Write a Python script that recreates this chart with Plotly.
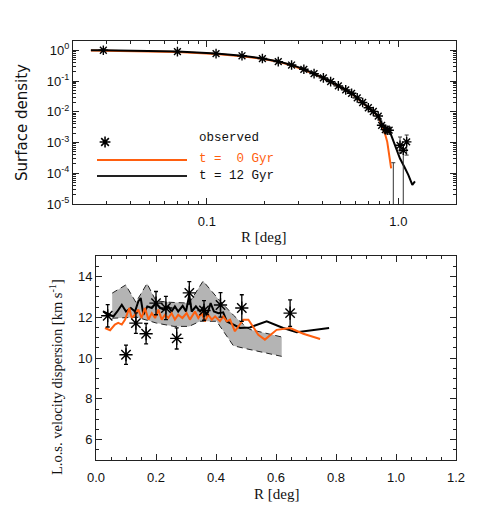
import plotly.graph_objects as go

# ---------------- Top panel: surface density profile ----------------
obs_r = [0.0288, 0.0702, 0.1117, 0.1526, 0.195, 0.236, 0.277, 0.321, 0.363, 0.406,
         0.443, 0.486, 0.531, 0.570, 0.610, 0.651, 0.697, 0.740, 0.785, 0.818,
         0.855, 0.875, 0.895, 0.941, 1.02, 1.061, 1.105]
obs_sigma = [1.0, 0.902, 0.776, 0.661, 0.537, 0.427, 0.331, 0.240, 0.174, 0.126,
             0.0955, 0.0692, 0.0513, 0.0398, 0.0282, 0.0200, 0.0135, 0.0102, 0.00724, 0.00363,
             0.00263, 0.00251, 0.00251, 1e-7, 8.1e-4, 5.6e-4, 1.05e-3]
obs_sigma_errp = [0.05, 0.045, 0.04, 0.035, 0.03, 0.024, 0.019, 0.014, 0.010, 0.0075,
                  0.0057, 0.0042, 0.0032, 0.0025, 0.0018, 0.0013, 0.0009, 0.0007, 0.0005, 0.0003,
                  0.0003, 0.0003, 0.0003, 2.2e-4, 7.0e-4, 3.0e-4, 7.0e-4]
obs_sigma_errm = [0.05, 0.045, 0.04, 0.035, 0.03, 0.024, 0.019, 0.014, 0.010, 0.0075,
                  0.0057, 0.0042, 0.0032, 0.0025, 0.0018, 0.0013, 0.0009, 0.0007, 0.0005, 0.0003,
                  0.0003, 0.0003, 0.0003, 0.0, 3.6e-4, 5.5999e-4, 6.6e-4]

m12_r = [0.0248, 0.0288, 0.0702, 0.1117, 0.1526, 0.195, 0.236, 0.277, 0.321, 0.363,
         0.406, 0.443, 0.486, 0.531, 0.570, 0.610, 0.651, 0.697, 0.740, 0.785,
         0.818, 0.851, 0.875, 0.897, 0.923, 0.979, 1.02, 1.074, 1.127, 1.183, 1.221]
m12_sigma = [1.0, 1.0, 0.91, 0.785, 0.668, 0.543, 0.431, 0.335, 0.243, 0.176,
             0.127, 0.0966, 0.070, 0.0519, 0.0403, 0.0285, 0.0202, 0.0136, 0.0103, 0.0073,
             0.0042, 0.0032, 0.00275, 0.0025, 0.00151, 5.6e-4, 3.0e-4, 1.62e-4, 8.9e-5, 4.2e-5, 5.4e-5]

m0_r = [0.0248, 0.0702, 0.1117, 0.1526, 0.195, 0.236, 0.277, 0.321, 0.363, 0.406,
        0.443, 0.486, 0.531, 0.570, 0.610, 0.651, 0.697, 0.740, 0.785, 0.818,
        0.851, 0.875, 0.897, 0.917]
m0_sigma = [0.98, 0.88, 0.755, 0.64, 0.525, 0.42, 0.325, 0.236, 0.171, 0.124,
            0.094, 0.068, 0.0505, 0.039, 0.0277, 0.0196, 0.0132, 0.0100, 0.0071, 0.0036,
            0.00195, 0.00105, 3.5e-4, 1.45e-4]

# legend marker position (top-panel data coordinates)
legend_sym_r = [0.0294]
legend_sym_sigma = [1.04e-3]

# ---------------- Bottom panel: velocity dispersion ----------------
vobs_r = [0.039, 0.10, 0.133, 0.167, 0.20, 0.233, 0.269, 0.311, 0.36, 0.415, 0.486, 0.647]
vobs_s = [12.07, 10.16, 11.71, 11.19, 12.69, 12.45, 10.96, 13.19, 12.33, 12.6, 12.45, 12.2]
vobs_e = [0.55, 0.47, 0.5, 0.5, 0.57, 0.57, 0.52, 0.55, 0.48, 0.6, 0.65, 0.65]

v12_r = [0.024, 0.041, 0.058, 0.071, 0.086, 0.10, 0.116, 0.13, 0.141, 0.149, 0.158, 0.171,
         0.186, 0.20, 0.213, 0.227, 0.241, 0.252, 0.263, 0.274, 0.289, 0.30, 0.311, 0.319,
         0.333, 0.347, 0.36, 0.369, 0.382, 0.393, 0.408, 0.424, 0.436, 0.452, 0.48, 0.513,
         0.569, 0.624, 0.669, 0.777]
v12_s = [12.28, 12.17, 12.04, 12.28, 12.61, 12.28, 12.45, 12.28, 12.77, 12.94, 12.12, 12.53,
         12.45, 12.69, 12.45, 12.37, 12.53, 12.28, 12.53, 12.28, 12.56, 12.28, 13.1, 12.28,
         12.53, 12.28, 12.53, 12.04, 12.69, 12.28, 12.2, 12.24, 11.79, 11.68, 11.47, 11.5,
         11.8, 11.47, 11.26, 11.47]

v0_r = [0.03, 0.047, 0.063, 0.074, 0.086, 0.097, 0.111, 0.119, 0.13, 0.141, 0.152, 0.163,
        0.175, 0.186, 0.197, 0.208, 0.219, 0.23, 0.241, 0.252, 0.263, 0.274, 0.288, 0.302,
        0.313, 0.33, 0.341, 0.352, 0.363, 0.374, 0.386, 0.397, 0.413, 0.424, 0.436, 0.447,
        0.463, 0.474, 0.491, 0.508, 0.524, 0.541, 0.563, 0.602, 0.647, 0.691, 0.747]
v0_s = [11.47, 11.36, 11.64, 11.72, 11.64, 11.88, 12.45, 11.96, 12.12, 12.37, 11.96, 12.45,
        11.88, 12.2, 11.96, 12.37, 11.88, 12.12, 11.96, 12.2, 11.88, 12.12, 11.96, 12.2,
        11.88, 12.28, 11.96, 12.2, 11.8, 12.12, 11.88, 12.04, 11.8, 12.04, 11.8, 11.88,
        11.31, 11.55, 11.88, 11.88, 11.55, 11.14, 10.9, 11.38, 11.47, 11.19, 10.93]

band_up_r = [0.054, 0.099, 0.133, 0.17, 0.2, 0.247, 0.31, 0.357, 0.412, 0.458, 0.502, 0.513, 0.619]
band_up_s = [13.18, 13.58, 12.73, 13.65, 12.8, 12.73, 12.69, 13.77, 12.82, 12.1, 11.5, 11.4, 11.03]
band_lo_r = [0.054, 0.136, 0.202, 0.26, 0.31, 0.347, 0.402, 0.458, 0.502, 0.619]
band_lo_s = [11.95, 12.0, 11.71, 11.55, 11.55, 11.8, 11.8, 10.6, 10.45, 10.08]

x_top_ticks = [0.1, 1.0]
x_top_ticktext = ["0.1", "1.0"]
y_top_ticks = [1e-5, 1e-4, 1e-3, 1e-2, 1e-1, 1.0]
y_top_ticktext = ["10<sup>-5</sup>", "10<sup>-4</sup>", "10<sup>-3</sup>",
                  "10<sup>-2</sup>", "10<sup>-1</sup>", "10<sup>0</sup>"]

ORANGE = "#FF5F0F"
BLACK = "#000000"
SANS = "Liberation Sans"
SERIF = "Liberation Serif"
MONO = "Liberation Mono"

fig = go.Figure()

ast = dict(symbol="asterisk-open", size=8, color=BLACK, line=dict(width=1.4, color=BLACK))

# top panel traces
fig.add_trace(go.Scatter(x=m0_r, y=m0_sigma, mode="lines", line=dict(color=ORANGE, width=2),
                         xaxis="x", yaxis="y", showlegend=False))
fig.add_trace(go.Scatter(x=m12_r, y=m12_sigma, mode="lines", line=dict(color=BLACK, width=2),
                         xaxis="x", yaxis="y", showlegend=False))
fig.add_trace(go.Scatter(x=obs_r, y=obs_sigma, mode="markers", marker=ast,
                         error_y=dict(type="data", symmetric=False, array=obs_sigma_errp,
                                      arrayminus=obs_sigma_errm, color="#333", thickness=1, width=2),
                         xaxis="x", yaxis="y", showlegend=False))
fig.add_trace(go.Scatter(x=legend_sym_r, y=legend_sym_sigma, mode="markers",
                         marker=dict(symbol="asterisk-open", size=9, color=BLACK,
                                     line=dict(width=1.6, color=BLACK)),
                         xaxis="x", yaxis="y", showlegend=False, hoverinfo="skip"))

# bottom panel traces
band_x = band_up_r + band_lo_r[::-1]
band_y = band_up_s + band_lo_s[::-1]
fig.add_trace(go.Scatter(x=band_x, y=band_y, mode="lines", fill="toself",
                         fillcolor="#B4B4B4", line=dict(width=0), xaxis="x2", yaxis="y2",
                         showlegend=False))
fig.add_trace(go.Scatter(x=band_up_r, y=band_up_s, mode="lines",
                         line=dict(color="#222", width=1, dash="6px,4px"), xaxis="x2", yaxis="y2",
                         showlegend=False))
fig.add_trace(go.Scatter(x=band_lo_r, y=band_lo_s, mode="lines",
                         line=dict(color="#222", width=1, dash="6px,4px"), xaxis="x2", yaxis="y2",
                         showlegend=False))
fig.add_trace(go.Scatter(x=v12_r, y=v12_s, mode="lines", line=dict(color=BLACK, width=2),
                         xaxis="x2", yaxis="y2", showlegend=False))
fig.add_trace(go.Scatter(x=v0_r, y=v0_s, mode="lines", line=dict(color=ORANGE, width=2),
                         xaxis="x2", yaxis="y2", showlegend=False))
fig.add_trace(go.Scatter(x=vobs_r, y=vobs_s, mode="markers",
                         marker=dict(symbol="asterisk-open", size=11, color=BLACK,
                                     line=dict(width=1.4, color=BLACK)),
                         error_y=dict(type="data", array=vobs_e, color=BLACK, thickness=1.3, width=2),
                         xaxis="x2", yaxis="y2", showlegend=False))

W, H = 480, 512
def px(x):
    return x / W
def py(y):
    return 1 - y / H

axis_common = dict(showline=True, linecolor="#222", linewidth=1, mirror="allticks",
                   ticks="inside", ticklen=6, tickcolor="#222", showgrid=False, zeroline=False,
                   automargin=False,
                   tickfont=dict(family=SANS, size=13, color="#111"))

minor_x_top = [0.02, 0.03, 0.04, 0.05, 0.06, 0.07, 0.08, 0.09,
               0.2, 0.3, 0.4, 0.5, 0.6, 0.7, 0.8, 0.9, 2.0]
minor_y_top = [k * 10.0 ** e for e in range(-5, 1) for k in range(2, 10)]

fig.update_layout(
    width=W, height=H, margin=dict(l=0, r=0, t=0, b=0),
    paper_bgcolor="white", plot_bgcolor="white",
    xaxis=dict(axis_common, type="log", range=[-1.69897, 0.30103],
               domain=[px(73), px(456)], anchor="y", ticklabelstandoff=5,
               tickmode="array", tickvals=x_top_ticks, ticktext=x_top_ticktext,
               minor=dict(tickvals=minor_x_top, ticks="inside", ticklen=3, tickcolor="#222")),
    yaxis=dict(axis_common, type="log", range=[-5, 0.30103],
               domain=[py(204), py(41)], anchor="x",
               tickmode="array", tickvals=y_top_ticks, ticktext=y_top_ticktext,
               minor=dict(tickvals=minor_y_top, ticks="inside", ticklen=3, tickcolor="#222")),
    xaxis2=dict(axis_common, range=[0, 1.2], domain=[px(96), px(456)], anchor="y2",
                ticklabelstandoff=5,
                tickmode="linear", tick0=0, dtick=0.2, tickformat=".1f",
                minor=dict(dtick=0.05, ticks="inside", ticklen=3, tickcolor="#222")),
    yaxis2=dict(axis_common, range=[5, 15], domain=[py(460), py(256)], anchor="x2",
                tickmode="array", tickvals=[6, 8, 10, 12, 14],
                minor=dict(dtick=0.5, ticks="inside", ticklen=3, tickcolor="#222")),
)

def note(text, x, y, font, angle=0, xanchor="center"):
    return dict(text=text, x=px(x), y=py(y), xref="paper", yref="paper",
                xanchor=xanchor, yanchor="middle", textangle=angle,
                showarrow=False, font=font)

ann = [
    note("Surface density", 22, 123, dict(family="DejaVu Sans", size=15, color="#111"), angle=-90),
    note("R [deg]", 263, 237, dict(family=SERIF, size=15, color="#111")),
    note("L.o.s. velocity dispersion [km s<sup>-1</sup>]", 56, 377,
         dict(family=SERIF, size=14.5, color="#111"), angle=-90),
    note("R [deg]", 276, 494, dict(family=SERIF, size=15, color="#111")),
    note("observed", 197, 138, dict(family=MONO, size=12.5, color="#111"), xanchor="left"),
    note("t =  0 Gyr", 197, 159, dict(family=MONO, size=12.5, color=ORANGE), xanchor="left"),
    note("t = 12 Gyr", 197, 176, dict(family=MONO, size=12.5, color="#111"), xanchor="left"),
]
fig.update_layout(annotations=ann)

fig.update_layout(shapes=[
    dict(type="line", xref="paper", yref="paper", x0=px(97), x1=px(187), y0=py(160), y1=py(160),
         line=dict(color=ORANGE, width=2)),
    dict(type="line", xref="paper", yref="paper", x0=px(97), x1=px(187), y0=py(176), y1=py(176),
         line=dict(color="#222", width=2)),
])

fig.write_html("out.html", config={"displayModeBar": False},
               post_script="document.body.style.margin='0';document.body.style.overflow='hidden';")
